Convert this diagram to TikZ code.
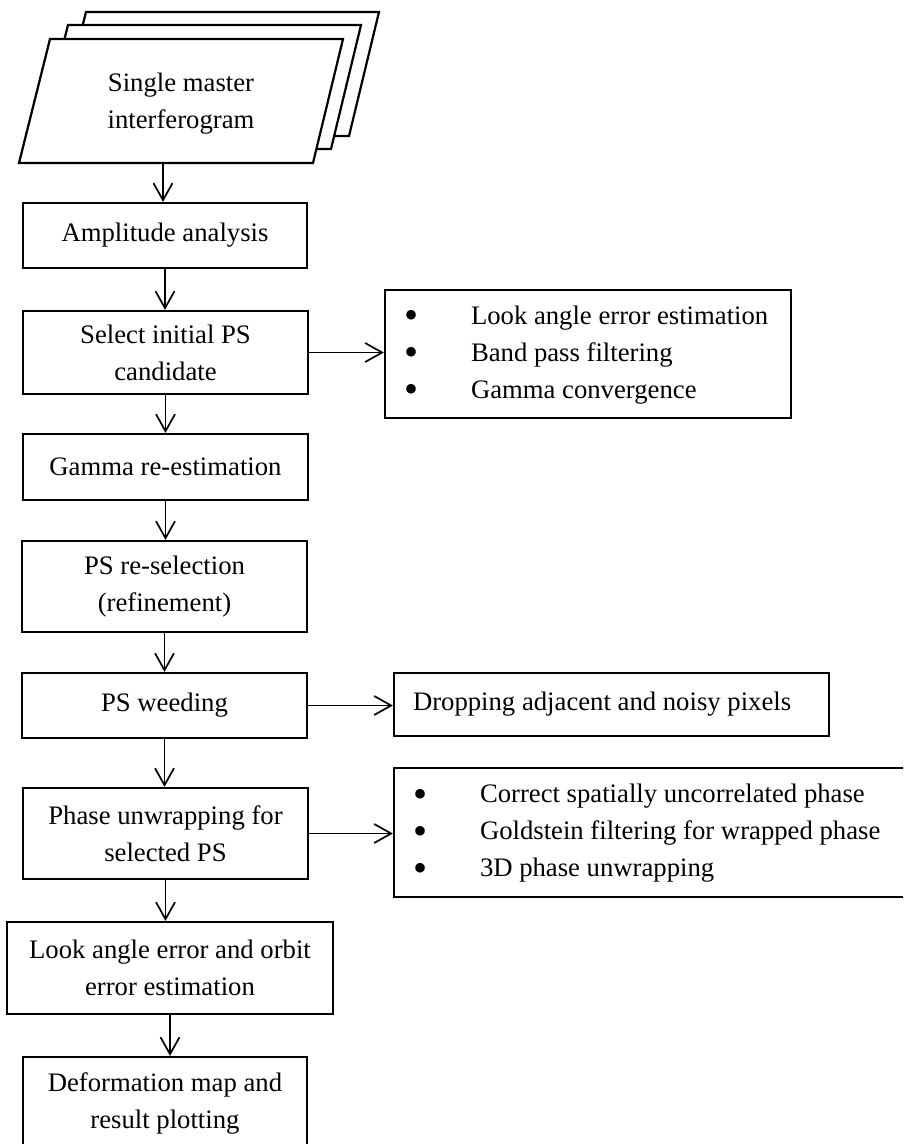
\documentclass[tikz,border=0pt]{standalone}
\usepackage{fontspec}
\setmainfont{Liberation Serif}
\usetikzlibrary{arrows.meta,calc}
\newcommand{\bigbul}{\raisebox{-0.17em}{\scalebox{1.5}{\textbullet}}}
\begin{document}
\begin{tikzpicture}[x=1pt,y=-1pt,
  txt/.style={font=\fontsize{26.7}{37}\selectfont},
  box/.style={txt, draw, line width=2.2pt, fill=white, inner sep=0pt, align=center},
  rbox/.style={txt, draw, line width=2.2pt, fill=white, inner xsep=19pt, inner ysep=0pt},
  arr/.style={line width=1.7pt, -{Straight Barb[length=17pt,width=19pt]}},
  para/.style={draw, line width=2.2pt, fill=white, line join=miter}]
\useasboundingbox (0,0) rectangle (903,1144);
\clip (0,0) rectangle (903,1144);
% stacked parallelograms
\foreach \dx/\dy in {36/-27, 18/-14, 0/0} {
  \draw[para, shift={(\dx,\dy)}] (50,39) -- (343,39) -- (313,163) -- (19,163) -- cycle;
}
\node[txt, align=center] (src) at (181,104) {Single master\\interferogram};
\coordinate (srcbot) at (163,163);
% main column
\node[box, minimum width=284pt, minimum height=65pt] (amp) at (165,235.5) {Amplitude analysis};
\node[box, minimum width=285pt, minimum height=83pt] (sel) at (165.5,352.5) {Select initial PS\\candidate};
\node[box, minimum width=285pt, minimum height=66pt] (gam) at (165.5,467) {Gamma re-estimation};
\node[box, minimum width=285pt, minimum height=91pt] (psr) at (164.5,586.5) {PS re-selection\\(refinement)};
\node[box, minimum width=285pt, minimum height=65pt] (weed) at (164.5,705.5) {PS weeding};
\node[box, minimum width=285pt, minimum height=91pt] (pha) at (165.5,833.5) {Phase unwrapping for\\selected PS};
\node[box, minimum width=326pt, minimum height=92pt] (look) at (170,968) {Look angle error and orbit\\error estimation};
\node[box, minimum width=284pt, minimum height=92pt] (def) at (165,1103) {Deformation map and\\result plotting};
% side boxes
\node[rbox, minimum width=406pt, minimum height=128pt] (r1) at (588,354)
  {\makebox[368pt][l]{\begin{tabular}{@{}p{67pt}@{}l@{}}
   \bigbul & Look angle error estimation\\
   \bigbul & Band pass filtering\\
   \bigbul & Gamma convergence
   \end{tabular}}};
\node[rbox, minimum width=435pt, minimum height=63pt] (r2) at (611.5,704.5)
  {\makebox[397pt][l]{Dropping adjacent and noisy pixels}};
\node[rbox, minimum width=516pt, minimum height=129pt] (r3) at (652,832.5)
  {\makebox[478pt][l]{\begin{tabular}{@{}p{67pt}@{}l@{}}
   \bigbul & Correct spatially uncorrelated phase\\
   \bigbul & Goldstein filtering for wrapped phase\\
   \bigbul & 3D phase unwrapping
   \end{tabular}}};
% connectors
\draw[arr] (srcbot) -- (srcbot |- amp.north);
\draw[arr] (amp.south) -- (amp.south |- sel.north);
\draw[arr] (sel.south) -- (sel.south |- gam.north);
\draw[arr] (gam.south) -- (gam.south |- psr.north);
\draw[arr] (psr.south) -- (psr.south |- weed.north);
\draw[arr] (weed.south) -- (weed.south |- pha.north);
\draw[arr] (pha.south) -- (pha.south |- look.north);
\draw[arr] (look.south) -- (look.south |- def.north);
\draw[arr] (sel.east) -- (sel.east -| r1.west);
\draw[arr] (weed.east) -- (weed.east -| r2.west);
\draw[arr] (pha.east) -- (pha.east -| r3.west);
\end{tikzpicture}
\end{document}
